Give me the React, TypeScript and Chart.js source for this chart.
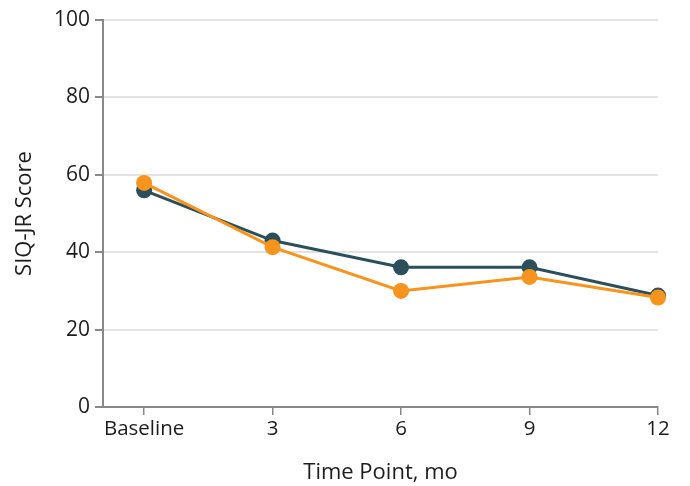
import React, { useEffect, useRef } from "react";
import { Chart, registerables } from "chart.js";

Chart.register(...registerables);

const timePoints = [0, 3, 6, 9, 12];
const tickLabels: Record<number, string> = { 0: "Baseline", 3: "3", 6: "6", 9: "9", 12: "12" };
const darkSeries = [56.0, 43.0, 36.1, 36.1, 28.8];
const orangeSeries = [57.9, 41.3, 30.0, 33.6, 28.3];

const FONT = "'Open Sans'";
const TEXT = "#1e1c1d";

export default function App() {
  const ref = useRef<HTMLCanvasElement>(null);
  useEffect(() => {
    if (!ref.current) return;
    const chart = new Chart(ref.current, {
      type: "line",
      data: {
        datasets: [
          {
            label: "Orange",
            data: timePoints.map((x, i) => ({ x, y: orangeSeries[i] })),
            borderColor: "#f7941d",
            backgroundColor: "#f7941d",
            borderWidth: 3,
            pointRadius: 8,
            pointHoverRadius: 8,
            pointBorderWidth: 0,
            clip: false as any,
            order: 0,
          },
          {
            label: "Dark",
            data: timePoints.map((x, i) => ({ x, y: darkSeries[i] })),
            borderColor: "#2b4f5b",
            backgroundColor: "#2b4f5b",
            borderWidth: 3,
            pointRadius: 8,
            pointHoverRadius: 8,
            pointBorderWidth: 0,
            clip: false as any,
            order: 1,
          },
        ],
      },
      options: {
        animation: false,
        responsive: false,
        maintainAspectRatio: false,
        layout: { padding: { left: 0, right: 32, top: 20, bottom: 0 } },
        plugins: { legend: { display: false }, tooltip: { enabled: false } },
        scales: {
          x: {
            type: "linear",
            min: -0.96,
            max: 12,
            afterBuildTicks: (scale: any) => {
              scale.ticks = timePoints.map((v) => ({ value: v }));
            },
            afterFit: (scale: any) => {
              scale.height = 79;
            },
            ticks: {
              callback: (v: any) => tickLabels[v as number] ?? "",
              color: TEXT,
              font: { family: FONT, size: 20.5 },
              padding: 2,
              maxRotation: 0,
              autoSkip: false,
            },
            grid: { drawOnChartArea: false, drawTicks: true, tickLength: 8, color: "#888", lineWidth: 1.5 },
            border: { display: true, color: "#888", width: 2 },
            title: {
              display: true,
              text: "Time Point, mo",
              color: TEXT,
              font: { family: FONT, size: 22 },
              padding: { top: 5, bottom: 0 },
            },
          },
          y: {
            min: 0,
            max: 100,
            afterFit: (scale: any) => {
              scale.width = 103;
            },
            ticks: {
              stepSize: 20,
              color: TEXT,
              font: { family: FONT, size: 21 },
              padding: 5,
            },
            grid: {
              color: "#e3e3e3",
              tickColor: "#888",
              lineWidth: 2,
              tickLength: 8,
            },
            border: { display: true, color: "#888", width: 2 },
            title: {
              display: true,
              text: "SIQ-JR Score",
              color: TEXT,
              font: { family: FONT, size: 22 },
              padding: { top: 12, bottom: 0 },
            },
          },
        },
      },
    });
    return () => chart.destroy();
  }, []);
  return (
    <div style={{ position: "fixed", left: 0, top: 0, width: 690, height: 486, background: "#fff" }}>
      <canvas ref={ref} width={690} height={486} style={{ width: 690, height: 486 }} />
    </div>
  );
}
